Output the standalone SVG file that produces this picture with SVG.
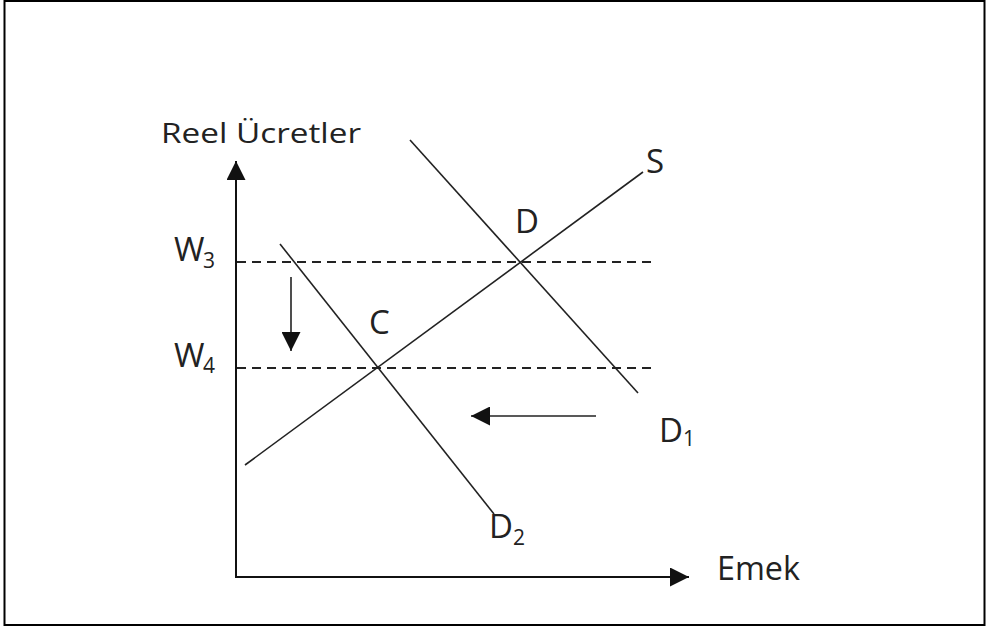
<svg xmlns="http://www.w3.org/2000/svg" width="986" height="632" viewBox="0 0 986 632">
<style>
text{font-family:"Open Sans","Liberation Sans",sans-serif;fill:#222;font-size:33px}
.sub{font-size:21px}
.ln{stroke:#222;stroke-width:1.6;fill:none}
.ax{stroke:#111;stroke-width:2;fill:none}
.dash{stroke:#222;stroke-width:1.8;stroke-dasharray:9,6;fill:none}
</style>
<defs>
<marker id="ah2" viewBox="0 0 10 10" refX="10" refY="5" markerWidth="22" markerHeight="19" markerUnits="userSpaceOnUse" orient="auto"><path d="M0,0L10,5L0,10z" fill="#111"/></marker>
</defs>
<rect x="0" y="0" width="986" height="632" fill="#fff"/>
<rect x="4.5" y="1" width="980" height="624" fill="none" stroke="#000" stroke-width="2"/>
<g id="axes">
<line class="ax" x1="236" y1="578" x2="236" y2="161" marker-end="url(#ah2)"/>
<line class="ax" x1="235" y1="577" x2="689" y2="577" marker-end="url(#ah2)"/>
</g>
<g id="connectors">
<line class="dash" x1="237" y1="262" x2="656" y2="262"/>
<line class="dash" x1="237" y1="368" x2="656" y2="368"/>
<line class="ln" x1="245" y1="465" x2="643" y2="172"/>
<line class="ln" x1="410" y1="140" x2="638" y2="393"/>
<line class="ln" x1="280" y1="244" x2="494" y2="514"/>
<line class="ln" x1="291" y1="277" x2="291" y2="351" marker-end="url(#ah2)"/>
<line class="ln" x1="596" y1="416" x2="471" y2="416" marker-end="url(#ah2)"/>
</g>
<g id="labels">
<text x="161" y="143" style="font-size:28px" textLength="200" lengthAdjust="spacingAndGlyphs">Reel Ücretler</text>
<g id="W3"><text x="174" y="261">W</text><text class="sub" x="203" y="268">3</text></g>
<g id="W4"><text x="174" y="367">W</text><text class="sub" x="203" y="373">4</text></g>
<g id="D"><text x="515" y="233">D</text></g>
<g id="C"><text x="369" y="334">C</text></g>
<g id="S"><text x="646" y="173">S</text></g>
<g id="D1"><text x="659" y="442">D</text><text class="sub" x="683" y="446">1</text></g>
<g id="D2"><text x="489" y="538">D</text><text class="sub" x="513" y="545">2</text></g>
<g id="Emek"><text x="717" y="580" textLength="83" lengthAdjust="spacingAndGlyphs">Emek</text></g>
</g>
</svg>
